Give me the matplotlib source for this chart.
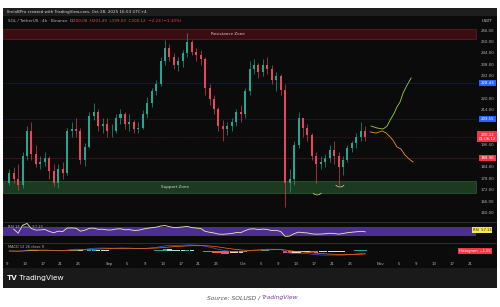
import matplotlib.pyplot as plt
import matplotlib.patches as mpatches
import numpy as np
import pandas as pd

W, H = 500, 307  # tamaño en píxeles

# Velas diarias SOL/USDT, 9 ago - 28 oct 2025
apertura_inicial = 176
maximos = [183, 184, 186, 192, 206, 208, 196, 190, 192, 190, 186, 186, 187, 205, 208, 210, 205, 197, 213, 218, 215, 210, 210,
           207, 212, 215, 213, 212, 209, 208, 214, 221, 226, 230, 242, 251, 249, 244, 242, 246, 255, 251, 247, 246, 242, 228, 222, 216, 209, 208, 210, 215, 217,
           226, 240, 241, 239, 241, 242, 238, 234, 233, 228, 183, 198, 213, 210, 207, 202, 192, 190, 191, 196, 198, 192, 190, 196, 198, 202, 208, 206]
minimos = [175, 176, 172, 173, 188, 188, 184, 183, 185, 178, 174, 173, 178, 180, 200, 200, 186, 185, 194, 209, 203, 202, 200,
           200, 202, 207, 204, 203, 202, 202, 204, 210, 216, 222, 227, 238, 240, 236, 235, 237, 242, 243, 240, 238, 222, 217, 212, 203, 198, 201, 203, 206, 208,
           210, 222, 233, 231, 232, 233, 228, 224, 222, 163, 171, 175, 194, 200, 198, 188, 176, 183, 184, 187, 186, 175, 180, 187, 192, 194, 198, 198]
cierres = [181, 178, 175, 190, 203, 191, 186, 187, 189, 182, 176, 183, 181, 203, 204, 203, 188, 195, 211, 213, 206, 207, 203,
           203, 210, 212, 207, 208, 204, 205, 212, 218, 224, 228, 240, 247, 242, 238, 240, 244, 250, 245, 243, 241, 226, 220, 215, 206, 204, 206, 208, 213, 212,
           224, 236, 238, 234, 238, 236, 230, 232, 225, 176, 178, 196, 210, 205, 201, 190, 186, 187, 189, 193, 190, 184, 188, 194, 197, 200, 203, 200]

# Etiquetas del eje de tiempo (días desde el 9 de agosto)
fechas_pos = [0, 4, 8, 12, 16, 23, 27, 31, 35, 39, 43, 47, 53, 57, 61, 65, 69, 73, 77, 84, 88, 92, 96, 100, 104]
fechas_txt = ['9', '13', '17', '21', '25', 'Sep', '5', '9', '13', '17', '21', '25', 'Oct', '5', '9', '13', '17', '21', '25',
              'Nov', '5', '9', '13', '17', '21']

# Niveles marcados
resistencia = (251.6, 256.8)
soporte = (170.6, 176.9)
niveles_azules = [228.43, 209.55]
nivel_rojo = 188.96
precio_actual = 200.12

# Proyecciones dibujadas a mano (día, precio)
alcista_x = [81.8, 83.1, 84.5, 85.4, 86.1, 87.0, 87.6, 88.3, 89.0, 89.9, 90.8]
alcista_y = [205.8, 204.8, 204.2, 205.8, 209.0, 212.6, 215.8, 218.4, 223.2, 227.4, 231.1]
bajista_x = [81.6, 82.9, 84.3, 85.2, 86.1, 86.7, 87.6, 88.5, 89.4, 90.3, 91.2]
bajista_y = [202.7, 202.1, 203.2, 202.1, 200.0, 198.4, 194.8, 193.7, 190.6, 188.5, 186.9]
arcos = [(69.7, 169.5), (74.8, 173.7)]

verde, rojo = '#22a88f', '#e8465a'
gris_txt = '#b2b5be'

fig = plt.figure(figsize=(W / 100, H / 100), dpi=100)
fig.patch.set_facecolor('white')


def caja(x0, y0, x1, y1, color):
    # rectángulo en píxeles (origen arriba a la izquierda), detrás de los ejes
    fig.patches.append(mpatches.Rectangle((x0 / W, 1 - y1 / H), (x1 - x0) / W, (y1 - y0) / H,
                                          transform=fig.transFigure, facecolor=color, edgecolor='none', zorder=-5))


def eje(x0, y0, x1, y1):
    a = fig.add_axes([x0 / W, 1 - y1 / H, (x1 - x0) / W, (y1 - y0) / H])
    a.set_facecolor('none')
    for s in a.spines.values():
        s.set_visible(False)
    a.set_xticks([])
    a.set_yticks([])
    return a


# Fondo del gráfico de TradingView
caja(3, 8, 497, 288, '#0b0b0b')
caja(3, 8, 497, 16, '#1e1e1e')
caja(3, 268, 497, 288, '#1a1a1a')
caja(3, 222, 497, 223, '#2e2e2e')
caja(3, 243, 497, 244, '#2e2e2e')

fig.text(7 / W, 1 - 12 / H, 'IlmiaBPro created with TradingView.com, Oct 28, 2025 16:53 UTC+4',
         color='#d1d4dc', fontsize=3, va='center')
t = fig.text(8 / W, 1 - 20.5 / H, 'SOL / TetherUS · 4h · Binance  O', color=gris_txt, fontsize=3, va='center')
fig.canvas.draw()
bb = t.get_window_extent()
fig.text(bb.x1 / W, 1 - 20.5 / H, '200.08  H201.49  L199.03  C200.12  −2.23 (−1.10%)', color=rojo, fontsize=3, va='center')

# Panel de precio
ax = eje(3, 17, 477, 221)
ax.set_xlim(-0.9, 105.6)
ax.set_ylim(155.8, 263.2)

ax.axhspan(*resistencia, xmax=0.998, facecolor='#3b0d12', edgecolor='#6b2a30', lw=0.4)
ax.text(49.7, np.mean(resistencia), 'Resistance Zone', color='#d8c8c8', fontsize=3, ha='center', va='center')
ax.axhspan(*soporte, xmax=0.998, facecolor='#1b3a1f', edgecolor='#3c6b40', lw=0.4)
ax.text(37.8, np.mean(soporte), 'Support Zone', color='#d0dcd0', fontsize=3, ha='center', va='center')

for nv in niveles_azules:
    ax.axhline(nv, color='#2962ff', lw=0.4, ls=(0, (1, 1)), alpha=0.6)
ax.axhline(nivel_rojo, color='#8a3030', lw=0.4, alpha=0.6)
ax.axhline(precio_actual, color=rojo, lw=0.4, ls=(0, (1, 1.5)), alpha=0.5)

c = np.array(cierres, float)
o = np.r_[apertura_inicial, c[:-1]]
x = np.arange(len(c)) + 0.5
col = np.where(c >= o, verde, rojo)
ax.vlines(x, minimos, maximos, colors=col, lw=0.45)
ax.bar(x, np.maximum(np.abs(c - o), 0.4), bottom=np.minimum(o, c), width=0.45, color=col, linewidth=0)

ax.plot(alcista_x, alcista_y, color='#8fd44a', lw=0.6)
ax.plot(bajista_x, bajista_y, color='#f0902a', lw=0.6)
for ax_, ay_ in arcos:
    ax.plot([ax_ - 0.9, ax_ - 0.5, ax_, ax_ + 0.5, ax_ + 0.9], [ay_ + 0.9, ay_ + 0.2, ay_, ay_ + 0.2, ay_ + 0.9],
            color='#e8d58a', lw=0.5)

# Escala de precios a la derecha
tr = ax.get_yaxis_transform()
marcas = np.arange(160, 260, 6)
ocupados = niveles_azules + [precio_actual, nivel_rojo]
for m in marcas:
    if min(abs(m - v) for v in ocupados) < 2.7:
        continue
    ax.text(1.022, m, f'{m:.2f}', transform=tr, color=gris_txt, fontsize=2.8, ha='center', va='center', clip_on=False)
fig.text(487 / W, 1 - 21 / H, 'USDT', color='#d1d4dc', fontsize=2.8, ha='center', va='center')


def etiqueta(valor, fondo, texto):
    ax.text(1.022, valor, texto, transform=tr, color='white', fontsize=2.8, ha='center', va='center', clip_on=False,
            bbox=dict(boxstyle='square,pad=0.35', facecolor=fondo, edgecolor='none'))


for nv in niveles_azules:
    etiqueta(nv, '#2962ff', f'{nv:.2f}')
etiqueta(precio_actual, '#f23645', f'{precio_actual:.2f}\n01:06:12')
etiqueta(nivel_rojo, '#f23645', f'{nivel_rojo:.2f}')

# RSI
cs = pd.Series(np.r_[apertura_inicial, c])
dif = cs.diff().iloc[1:]
gan = dif.clip(lower=0).ewm(alpha=1 / 14).mean()
per = (-dif).clip(lower=0).ewm(alpha=1 / 14).mean()
rsi = (100 * gan / (gan + per)).to_numpy()

ar = eje(3, 223, 477, 243)
ar.set_xlim(-0.9, 105.6)
ar.set_ylim(-1, 88)
ar.axhspan(30, 70, xmax=0.998, facecolor='#4c2f93', edgecolor='none')
ar.plot(x[1:], rsi[1:], color='#f2e7b4', lw=0.6)
ar.text(0.01, 0.82, 'RSI 14 close  57.13', transform=ar.transAxes, color=gris_txt, fontsize=2.6, va='center')
ar.text(1.03, 57.13, 'RSI  57.13', transform=ar.get_yaxis_transform(), color='#222', fontsize=2.6, ha='right',
        va='center', clip_on=False, bbox=dict(boxstyle='square,pad=0.3', facecolor='#f5e94b', edgecolor='none'))

# MACD
e12 = cs.iloc[1:].ewm(span=12, adjust=False).mean()
e26 = cs.iloc[1:].ewm(span=26, adjust=False).mean()
macd = (e12 - e26).to_numpy()
senal = pd.Series(macd).ewm(span=9, adjust=False).mean().to_numpy()
hist = macd - senal
prev = np.r_[0, hist[:-1]]
col_h = np.where(hist >= 0, np.where(hist >= prev, '#26a69a', '#b2dfdb'), np.where(hist < prev, '#ff5252', '#ffcdd2'))

am = eje(3, 244, 477, 258)
am.set_xlim(-0.9, 105.6)
lim = 1.15 * np.abs(macd).max()
am.set_ylim(-lim, lim)
am.bar(x, hist, width=0.95, color=col_h, linewidth=0)
am.plot(x, macd, color='#2962ff', lw=0.5)
am.plot(x, senal, color='#ff6d00', lw=0.5)
am.text(0.01, 0.78, 'MACD 12 26 close 9', transform=am.transAxes, color=gris_txt, fontsize=2.6, va='center')
am.text(1.0295, 0, 'Histogram  −1.05', transform=am.get_yaxis_transform(), color='white', fontsize=2.5, ha='right',
        va='center', clip_on=False, bbox=dict(boxstyle='square,pad=0.3', facecolor='#f23645', edgecolor='none'))

# Eje de tiempo
am.set_xticks(fechas_pos)
am.set_xticklabels(fechas_txt)
am.tick_params(axis='x', length=0, pad=3, labelsize=2.8, labelcolor=gris_txt)

# Logo y fuente
fig.text(7 / W, 1 - 278 / H, 'TV', color='white', fontsize=5.5, fontweight='bold', va='center', family='Inter')
fig.text(19 / W, 1 - 278 / H, 'TradingView', color='white', fontsize=5.5, va='center', family='Inter')
s = fig.text(207 / W, 1 - 298 / H, 'Source: SOLUSD / ', color='#555555', fontsize=4.3, style='italic', va='center')
fig.canvas.draw()
bb = s.get_window_extent()
fig.text(bb.x1 / W, 1 - 298 / H, 'TradingView', color='#7d3c98', fontsize=4.3, style='italic', va='center')

fig.savefig('out.png', dpi=100, facecolor='white')
